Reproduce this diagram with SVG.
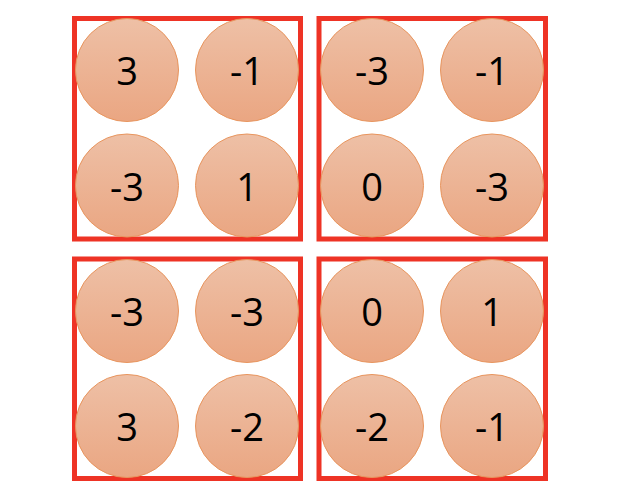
<svg xmlns="http://www.w3.org/2000/svg" width="620" height="504" viewBox="0 0 620 504">
<style>
.box{fill:none;stroke:#EE3325;stroke-width:5}
.c{fill:url(#g);stroke:#E8955E;stroke-width:1}
.t{font-family:"Open Sans","Liberation Sans",sans-serif;font-size:38px;fill:#000;text-anchor:middle}
</style>
<defs>
<linearGradient id="g" x1="0" y1="0" x2="0" y2="1">
<stop offset="0" stop-color="#EEC0A6"/>
<stop offset="1" stop-color="#EAA682"/>
</linearGradient>
</defs>
<rect width="620" height="504" fill="#fff"/>
<g id="boxA">
<rect class="box" x="74.5" y="18.5" width="226" height="220.5"/>
<g id="a1"><circle class="c" cx="127" cy="70" r="51.5"/><text class="t" x="127" y="85">3</text></g>
<g id="a2"><circle class="c" cx="247" cy="70" r="51.5"/><text class="t" x="247" y="85">-1</text></g>
<g id="a3"><circle class="c" cx="127" cy="185.5" r="51.5"/><text class="t" x="127" y="200.5">-3</text></g>
<g id="a4"><circle class="c" cx="247" cy="185.5" r="51.5"/><text class="t" x="247" y="200.5">1</text></g>
</g>
<g id="boxB">
<rect class="box" x="319" y="18.5" width="226.5" height="220.5"/>
<g id="b1"><circle class="c" cx="372" cy="70" r="51.5"/><text class="t" x="372" y="85">-3</text></g>
<g id="b2"><circle class="c" cx="492" cy="70" r="51.5"/><text class="t" x="492" y="85">-1</text></g>
<g id="b3"><circle class="c" cx="372" cy="185.5" r="51.5"/><text class="t" x="372" y="200.5">0</text></g>
<g id="b4"><circle class="c" cx="492" cy="185.5" r="51.5"/><text class="t" x="492" y="200.5">-3</text></g>
</g>
<g id="boxC">
<rect class="box" x="74.5" y="259" width="226" height="219.5"/>
<g id="c1"><circle class="c" cx="127" cy="311" r="51.5"/><text class="t" x="127" y="326">-3</text></g>
<g id="c2"><circle class="c" cx="247" cy="311" r="51.5"/><text class="t" x="247" y="326">-3</text></g>
<g id="c3"><circle class="c" cx="127" cy="426" r="51.5"/><text class="t" x="127" y="441">3</text></g>
<g id="c4"><circle class="c" cx="247" cy="426" r="51.5"/><text class="t" x="247" y="441">-2</text></g>
</g>
<g id="boxD">
<rect class="box" x="319" y="259" width="226.5" height="219.5"/>
<g id="d1"><circle class="c" cx="372" cy="311" r="51.5"/><text class="t" x="372" y="326">0</text></g>
<g id="d2"><circle class="c" cx="492" cy="311" r="51.5"/><text class="t" x="492" y="326">1</text></g>
<g id="d3"><circle class="c" cx="372" cy="426" r="51.5"/><text class="t" x="372" y="441">-2</text></g>
<g id="d4"><circle class="c" cx="492" cy="426" r="51.5"/><text class="t" x="492" y="441">-1</text></g>
</g>
<g id="connectors"/>
</svg>
